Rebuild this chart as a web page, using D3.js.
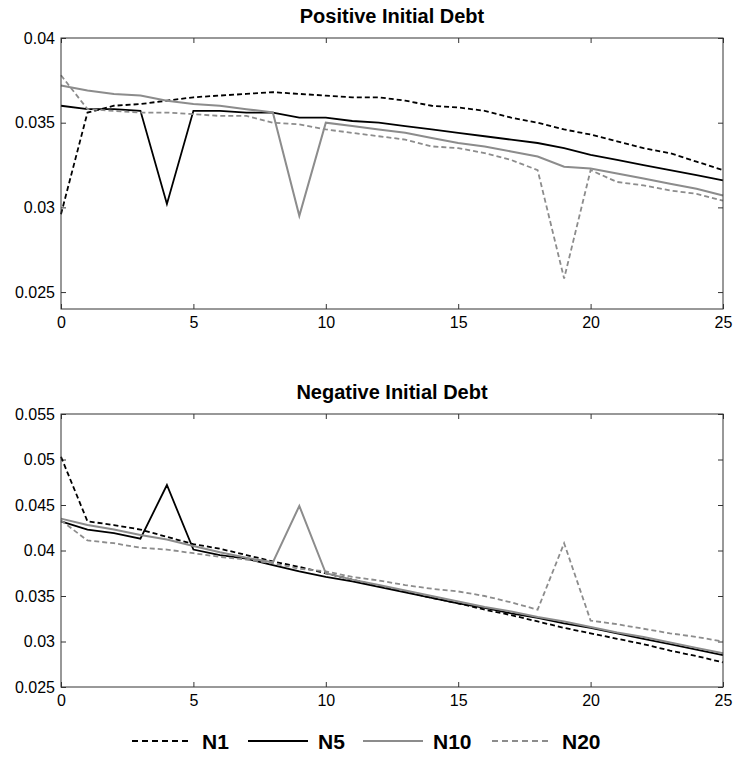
<!DOCTYPE html>
<html>
<head>
<meta charset="utf-8">
<script src="https://cdn.jsdelivr.net/npm/d3@7"></script>
<style>
	body { margin: 0; background: #fff; }
	svg { font-family: Arial, 'Liberation Sans', sans-serif; }
</style>
</head>
<body>
<div id="chart"></div>
<script>
const periods = d3.range(0, 26);
const seriesNames = ['N1', 'N5', 'N10', 'N20'];

// positive initial debt
const posN1 = [0.0296, 0.0356, 0.0360, 0.0361, 0.0363, 0.0365, 0.0366, 0.0367, 0.0368, 0.0367, 0.0366, 0.0365, 0.0365, 0.0363, 0.0360, 0.0359, 0.0357, 0.0353, 0.0350, 0.0346, 0.0343, 0.0339, 0.0335, 0.0332, 0.0327, 0.0322];
const posN5 = [0.0360, 0.0358, 0.0358, 0.0357, 0.0302, 0.0357, 0.0357, 0.0356, 0.0356, 0.0353, 0.0353, 0.0351, 0.0350, 0.0348, 0.0346, 0.0344, 0.0342, 0.0340, 0.0338, 0.0335, 0.0331, 0.0328, 0.0325, 0.0322, 0.0319, 0.0316];
const posN10 = [0.0372, 0.0369, 0.0367, 0.0366, 0.0363, 0.0361, 0.0360, 0.0358, 0.0356, 0.0295, 0.0350, 0.0348, 0.0346, 0.0344, 0.0341, 0.0338, 0.0336, 0.0333, 0.0330, 0.0324, 0.0323, 0.0320, 0.0317, 0.0314, 0.0311, 0.0307];
const posN20 = [0.0378, 0.0358, 0.0357, 0.0356, 0.0356, 0.0355, 0.0354, 0.0354, 0.0350, 0.0349, 0.0346, 0.0344, 0.0342, 0.0340, 0.0336, 0.0335, 0.0332, 0.0328, 0.0322, 0.0258, 0.0322, 0.0315, 0.0313, 0.0310, 0.0308, 0.0304];

// negative initial debt
const negN1 = [0.0503, 0.0432, 0.0428, 0.0423, 0.0415, 0.0407, 0.0402, 0.0395, 0.0388, 0.0382, 0.0375, 0.0368, 0.0361, 0.0355, 0.0348, 0.0342, 0.0335, 0.0329, 0.0322, 0.0315, 0.0309, 0.0303, 0.0297, 0.0290, 0.0284, 0.0277];
const negN5 = [0.0432, 0.0423, 0.0419, 0.0413, 0.0472, 0.0401, 0.0395, 0.0391, 0.0384, 0.0377, 0.0371, 0.0366, 0.0360, 0.0354, 0.0348, 0.0342, 0.0337, 0.0331, 0.0326, 0.0320, 0.0315, 0.0309, 0.0303, 0.0297, 0.0291, 0.0285];
const negN10 = [0.0435, 0.0428, 0.0423, 0.0417, 0.0412, 0.0405, 0.0398, 0.0392, 0.0387, 0.0449, 0.0375, 0.0368, 0.0362, 0.0356, 0.0350, 0.0344, 0.0338, 0.0333, 0.0327, 0.0322, 0.0316, 0.0310, 0.0305, 0.0299, 0.0293, 0.0287];
const negN20 = [0.0433, 0.0411, 0.0408, 0.0403, 0.0401, 0.0397, 0.0393, 0.0390, 0.0386, 0.0380, 0.0377, 0.0371, 0.0367, 0.0362, 0.0358, 0.0355, 0.0350, 0.0343, 0.0335, 0.0408, 0.0323, 0.0319, 0.0314, 0.0309, 0.0305, 0.0300];

const xTicks = [0, 5, 10, 15, 20, 25];
const posYTicks = [0.025, 0.03, 0.035, 0.04];
const negYTicks = [0.025, 0.03, 0.035, 0.04, 0.045, 0.05, 0.055];

const styles = {
	N1: { color: '#000', dash: '5,3', width: 1.8 },
	N5: { color: '#000', dash: null, width: 1.8 },
	N10: { color: '#8c8c8c', dash: null, width: 2 },
	N20: { color: '#8c8c8c', dash: '5,3', width: 1.8 },
};

const width = 733;
const height = 759;
const svg = d3.select('#chart').append('svg')
	.attr('width', width)
	.attr('height', height);

function drawPanel(cfg) {
	const x = d3.scaleLinear().domain([0, 25]).range([cfg.left, cfg.right]);
	const y = d3.scaleLinear().domain(cfg.yDomain).range([cfg.bottom, cfg.top]);
	const g = svg.append('g');

	g.append('text')
		.attr('x', (cfg.left + cfg.right) / 2)
		.attr('y', cfg.top - 15)
		.attr('text-anchor', 'middle')
		.style('font-weight', 'bold')
		.style('font-size', '20px')
		.text(cfg.title);

	const tickLen = 5;
	// axes with inward ticks, matlab style box
	const xAxisB = d3.axisBottom(x).tickValues(xTicks).tickSizeInner(-tickLen).tickSizeOuter(0).tickPadding(8);
	const xAxisT = d3.axisTop(x).tickValues(xTicks).tickSizeInner(-tickLen).tickSizeOuter(0).tickFormat('');
	const yAxisL = d3.axisLeft(y).tickValues(cfg.yTicks).tickSizeInner(-tickLen).tickSizeOuter(0).tickPadding(6).tickFormat(d3.format('~g'));
	const yAxisR = d3.axisRight(y).tickValues(cfg.yTicks).tickSizeInner(-tickLen).tickSizeOuter(0).tickFormat('');

	const gb = g.append('g').attr('transform', `translate(0,${cfg.bottom})`).call(xAxisB);
	g.append('g').attr('transform', `translate(0,${cfg.top})`).call(xAxisT);
	const gl = g.append('g').attr('transform', `translate(${cfg.left},0)`).call(yAxisL);
	g.append('g').attr('transform', `translate(${cfg.right},0)`).call(yAxisR);

	g.selectAll('.domain').remove();
	g.selectAll('.tick line').attr('stroke', '#333');
	g.selectAll('.tick text').style('font-size', '16px').attr('fill', '#000');

	const line = d3.line()
		.x((d, i) => x(periods[i]))
		.y((d) => y(d));

	seriesNames.forEach((name, k) => {
		const s = styles[name];
		g.append('path')
			.datum(cfg.series[k])
			.attr('fill', 'none')
			.attr('stroke', s.color)
			.attr('stroke-width', s.width)
			.attr('stroke-dasharray', s.dash)
			.attr('d', line);
	});

	g.append('rect')
		.attr('x', cfg.left)
		.attr('y', cfg.top)
		.attr('width', cfg.right - cfg.left)
		.attr('height', cfg.bottom - cfg.top)
		.attr('fill', 'none')
		.attr('stroke', '#333')
		.attr('stroke-width', 1);
}

drawPanel({
	title: 'Positive Initial Debt',
	left: 61, right: 723, top: 38, bottom: 309,
	yDomain: [0.024, 0.04],
	yTicks: posYTicks,
	series: [posN1, posN5, posN10, posN20],
});

drawPanel({
	title: 'Negative Initial Debt',
	left: 61, right: 723, top: 414, bottom: 687,
	yDomain: [0.025, 0.055],
	yTicks: negYTicks,
	series: [negN1, negN5, negN10, negN20],
});

// legend
const legendX = [132, 248, 363, 492];
const legend = svg.append('g').attr('transform', 'translate(0,741)');
seriesNames.forEach((name, i) => {
	const s = styles[name];
	legend.append('line')
		.attr('x1', legendX[i])
		.attr('x2', legendX[i] + 60)
		.attr('y1', 0)
		.attr('y2', 0)
		.attr('stroke', s.color)
		.attr('stroke-width', 2)
		.attr('stroke-dasharray', s.dash ? '6,4' : null);
	legend.append('text')
		.attr('x', legendX[i] + 70)
		.attr('y', 8)
		.style('font-size', '21px')
		.style('font-weight', 'bold')
		.text(name);
});
</script>
</body>
</html>
